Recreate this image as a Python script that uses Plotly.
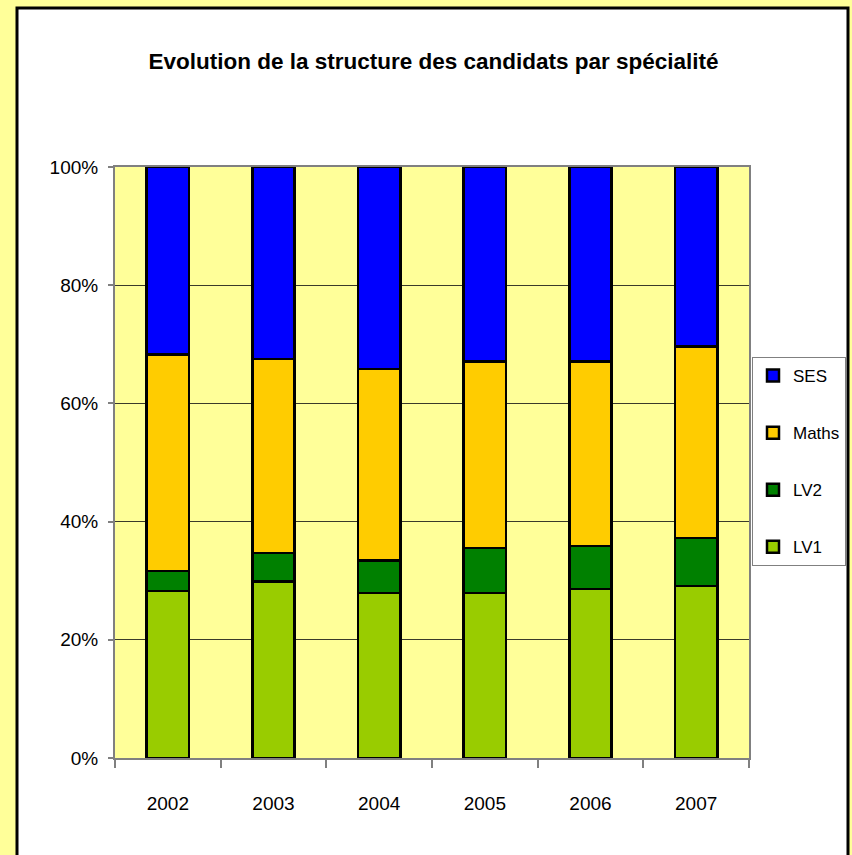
import plotly.graph_objects as go

years = ["2002", "2003", "2004", "2005", "2006", "2007"]
lv1 = [28.3, 29.9, 27.9, 27.9, 28.6, 29.1]
lv2 = [3.3, 4.8, 5.5, 7.6, 7.3, 8.1]
maths = [36.7, 32.8, 32.4, 31.6, 31.2, 32.4]
ses = [31.7, 32.5, 34.2, 32.9, 32.9, 30.4]

series = [("LV1", lv1, "#99CC00", 4), ("LV2", lv2, "#008000", 3),
          ("Maths", maths, "#FFCC00", 2), ("SES", ses, "#0000FF", 1)]

FONT = "Liberation Sans, Arial, sans-serif"

# plot area in pixels
L, R, T, B = 115, 749, 167, 758
W, H = 852, 855
PW, PH = R - L, B - T

fig = go.Figure()
for name, vals, col, rank in series:
    fig.add_trace(go.Bar(
        x=years, y=vals, name=name, legendgroup=name, legendrank=rank,
        marker=dict(color=col, line=dict(color="black", width=2.5)),
        width=0.4,
    ))

fig.update_layout(
    barmode="stack",
    width=W, height=H,
    paper_bgcolor="#FFFF99",
    plot_bgcolor="#FFFF99",
    margin=dict(l=L, r=W - R, t=T, b=H - B, autoexpand=False),
    font=dict(family=FONT, size=18, color="black"),
    title=dict(text="<b>Evolution de la structure des candidats par spécialité</b>",
               x=433.5 / W, xanchor="center", y=1 - 61 / H, yanchor="middle",
               font=dict(family=FONT, size=22.5, color="black")),
    legend=dict(x=(752 - L) / PW, xanchor="left", y=(B - 357) / PH, yanchor="top",
                bgcolor="white", bordercolor="#808080", borderwidth=1,
                traceorder="grouped", tracegroupgap=32,
                font=dict(family=FONT, size=17, color="black"),
                itemwidth=30),
    showlegend=True,
)

# outer white panel with black border
fig.add_shape(type="rect", xref="paper", yref="paper",
              x0=(17 - L) / PW, x1=(848 - L) / PW,
              y0=-(H - B + 10) / PH, y1=(B - 8) / PH,
              line=dict(color="black", width=3), fillcolor="white", layer="below")
# plot area fill
fig.add_shape(type="rect", xref="paper", yref="paper",
              x0=0, x1=1, y0=0, y1=1,
              line=dict(width=0), fillcolor="#FFFF99", layer="below")

fig.update_xaxes(type="category", showgrid=False, showline=True, linecolor="#808080",
                 linewidth=2, mirror=True, ticks="outside", tickson="boundaries",
                 ticklen=8, tickcolor="#808080", tickwidth=2,
                 tickfont=dict(family=FONT, size=19), ticklabelstandoff=27)
fig.update_yaxes(range=[0, 100], dtick=20, ticksuffix="%", showgrid=True,
                 gridcolor="#3a3a2a", gridwidth=1, showline=True, linecolor="#808080",
                 linewidth=2, mirror=True, ticks="outside", ticklen=5,
                 tickcolor="#808080", tickwidth=2, zeroline=False,
                 tickfont=dict(family=FONT, size=19), ticklabelstandoff=6)

fig.write_html("out.html", config={"displayModeBar": False},
               post_script="document.body.style.margin='0';document.body.style.overflow='hidden';")
